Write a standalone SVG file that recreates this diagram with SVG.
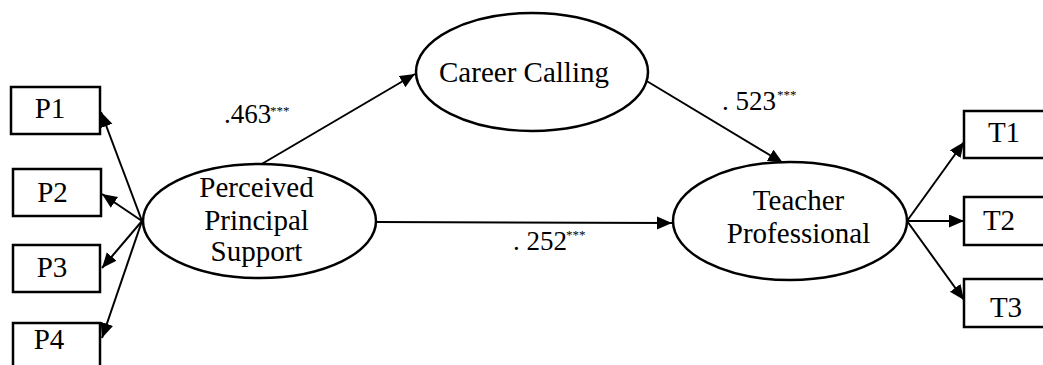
<svg xmlns="http://www.w3.org/2000/svg" width="1043" height="365" viewBox="0 0 1043 365">
<style>
.box{fill:#fff;stroke:#000;stroke-width:2.5}
.ell{fill:#fff;stroke:#000;stroke-width:2.5}
.lbl{font-family:"Liberation Serif","Times New Roman",serif;font-size:29px;fill:#000}
.num{font-family:"Liberation Serif","Times New Roman",serif;font-size:27px;fill:#000}
.sup{font-family:"Liberation Serif","Times New Roman",serif;font-size:13px;fill:#000}
.edge{stroke:#000;stroke-width:2;fill:none;marker-end:url(#ah)}
</style>
<defs>
<marker id="ah" markerUnits="userSpaceOnUse" markerWidth="16" markerHeight="14" refX="15" refY="6.5" orient="auto">
<path d="M0,0 L15,6.5 L0,13 z" fill="#000"/>
</marker>
</defs>
<rect width="1043" height="365" fill="#fff"/>
<g id="connectors">
<line class="edge" x1="142" y1="221" x2="101" y2="112"/>
<line class="edge" x1="142" y1="221" x2="102" y2="194"/>
<line class="edge" x1="142" y1="221" x2="102" y2="268"/>
<line class="edge" x1="142" y1="221" x2="102" y2="338"/>
<line class="edge" x1="260" y1="165" x2="415" y2="74"/>
<line class="edge" x1="376" y1="222" x2="672" y2="223"/>
<line class="edge" x1="645" y1="80" x2="783" y2="163"/>
<line class="edge" x1="907" y1="221" x2="964" y2="142"/>
<line class="edge" x1="907" y1="221" x2="964" y2="221"/>
<line class="edge" x1="907" y1="221" x2="964" y2="300"/>
<text class="num" x="224" y="123">.463</text><text class="sup" x="270" y="115">***</text>
<text class="num" x="722" y="110">. 523</text><text class="sup" x="777" y="99">***</text>
<text class="num" x="513" y="250">. 252</text><text class="sup" x="566" y="239">***</text>
</g>
<g id="P1"><rect class="box" x="11" y="87" width="89" height="47"/><text class="lbl" x="50" y="118" text-anchor="middle">P1</text></g>
<g id="P2"><rect class="box" x="13" y="169" width="88" height="47"/><text class="lbl" x="52.5" y="202" text-anchor="middle">P2</text></g>
<g id="P3"><rect class="box" x="13" y="245" width="87" height="47"/><text class="lbl" x="52" y="277" text-anchor="middle">P3</text></g>
<g id="P4"><rect class="box" x="13" y="323" width="87" height="50"/><text class="lbl" x="49" y="349" text-anchor="middle">P4</text></g>
<g id="PPS"><ellipse class="ell" cx="259.5" cy="221" rx="116.5" ry="57"/>
<text class="lbl" x="256.5" y="197" text-anchor="middle">Perceived</text>
<text class="lbl" x="256.5" y="230" text-anchor="middle">Principal</text>
<text class="lbl" x="256.5" y="261" text-anchor="middle">Support</text></g>
<g id="CC"><ellipse class="ell" cx="532" cy="72" rx="116" ry="59"/>
<text class="lbl" x="524" y="82" text-anchor="middle">Career Calling</text></g>
<g id="TP"><ellipse class="ell" cx="790" cy="221" rx="117" ry="59"/>
<text class="lbl" x="798.5" y="210" text-anchor="middle">Teacher</text>
<text class="lbl" x="798.5" y="243" text-anchor="middle">Professional</text></g>
<g id="T1"><rect class="box" x="964" y="111" width="90" height="47"/><text class="lbl" x="1004" y="142" text-anchor="middle">T1</text></g>
<g id="T2"><rect class="box" x="964" y="197" width="90" height="48"/><text class="lbl" x="999" y="230" text-anchor="middle">T2</text></g>
<g id="T3"><rect class="box" x="964" y="279" width="90" height="48"/><text class="lbl" x="1006" y="317" text-anchor="middle">T3</text></g>
</svg>
